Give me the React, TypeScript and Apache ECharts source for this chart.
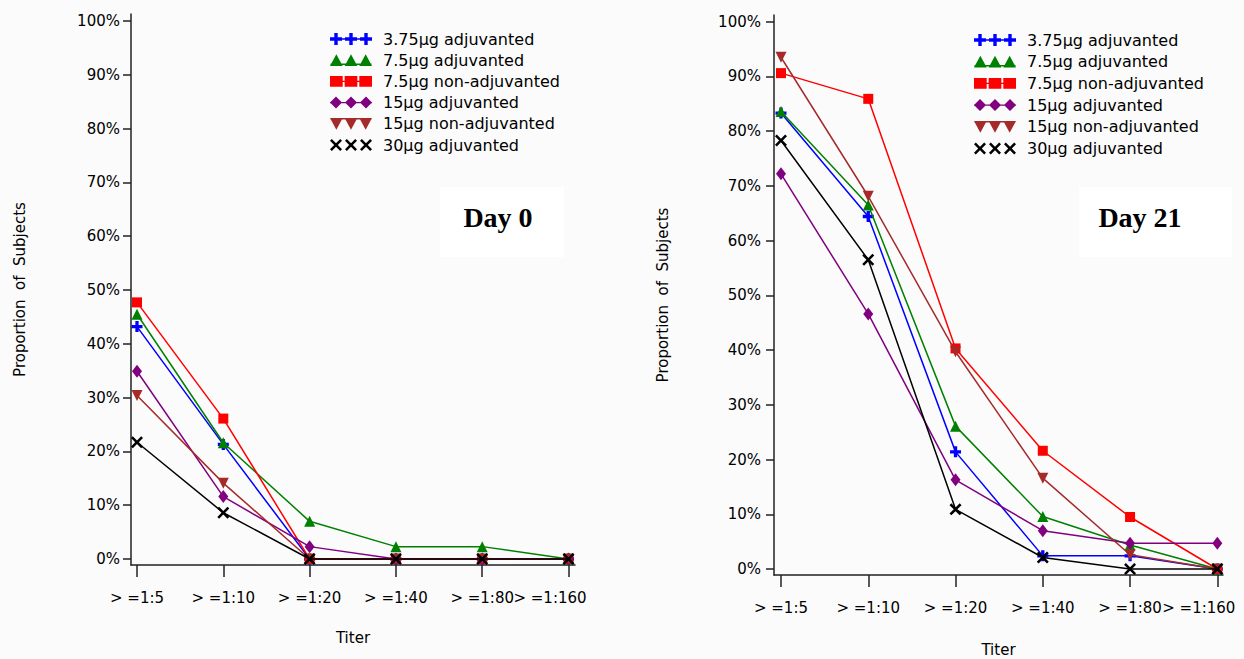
import React, { useEffect, useRef } from 'react';
import * as echarts from 'echarts';

// ---------- data ----------
const TITER_LABELS = ['> =1:5', '> =1:10', '> =1:20', '> =1:40', '> =1:80', '> =1:160'];
const TITER_POS = [0, 1, 2, 3, 4, 5];
const Y_TICKS = [0, 10, 20, 30, 40, 50, 60, 70, 80, 90, 100];
const GROUP_NAMES = [
  '3.75µg adjuvanted',
  '7.5µg adjuvanted',
  '7.5µg non-adjuvanted',
  '15µg adjuvanted',
  '15µg non-adjuvanted',
  '30µg adjuvanted',
];
const GROUP_COLORS = ['#0000ff', '#008000', '#ff0000', '#800080', '#a52a2a', '#000000'];
const PANEL_TITLES = ['Day 0', 'Day 21'];

// Day 0 (% of subjects)
const DAY0_375_ADJ = [43.2, 21.3, 0, 0, 0, 0];
const DAY0_75_ADJ = [45.5, 21.6, 7.0, 2.3, 2.3, 0];
const DAY0_75_NON = [47.7, 26.1, 0, 0, 0, 0];
const DAY0_15_ADJ = [34.9, 11.6, 2.3, 0, 0, 0];
const DAY0_15_NON = [30.4, 14.1, 0, 0, 0, 0];
const DAY0_30_ADJ = [21.7, 8.6, 0, 0, 0, 0];

// Day 21 (% of subjects)
const DAY21_375_ADJ = [83.3, 64.4, 21.4, 2.4, 2.4, 0];
const DAY21_75_ADJ = [83.6, 66.5, 26.1, 9.6, 4.4, 0];
const DAY21_75_NON = [90.6, 85.9, 40.3, 21.6, 9.5, 0];
const DAY21_15_ADJ = [72.2, 46.6, 16.3, 7.0, 4.7, 4.7];
const DAY21_15_NON = [93.5, 68.1, 39.7, 16.6, 2.6, 0];
const DAY21_30_ADJ = [78.3, 56.5, 10.9, 2.1, 0, 0];

const DAY0 = [DAY0_375_ADJ, DAY0_75_ADJ, DAY0_75_NON, DAY0_15_ADJ, DAY0_15_NON, DAY0_30_ADJ];
const DAY21 = [DAY21_375_ADJ, DAY21_75_ADJ, DAY21_75_NON, DAY21_15_ADJ, DAY21_15_NON, DAY21_30_ADJ];

// ---------- styling ----------
const SANS = "'DejaVu Sans', sans-serif";
const PLUS = 'path://M3.5,0H6.5V3.5H10V6.5H6.5V10H3.5V6.5H0V3.5H3.5Z';
const XMARK = 'path://M0,1.5L1.5,0L5,3.5L8.5,0L10,1.5L6.5,5L10,8.5L8.5,10L5,6.5L1.5,10L0,8.5L3.5,5Z';
const SYMBOLS: any[] = [
  { symbol: PLUS, size: 11, rotate: 0 },
  { symbol: 'triangle', size: 11, rotate: 0 },
  { symbol: 'rect', size: 10, rotate: 0 },
  { symbol: 'diamond', size: [10, 13], rotate: 0 },
  { symbol: 'triangle', size: 11, rotate: 180 },
  { symbol: XMARK, size: 12, rotate: 0 },
];

const CENTERS = [6, 21, 36];
const rect = (x0: number, y0: number, x1: number, y1: number) => `M${x0},${y0}H${x1}V${y1}H${x0}Z`;
function legendIcon(kind: number): string {
  let d = '';
  if (kind === 0) {
    d += rect(0, 5.2, 42, 6.8);
    CENTERS.forEach((c) => { d += rect(c - 6, 4.3, c + 6, 7.7) + rect(c - 1.7, 0, c + 1.7, 12); });
  } else if (kind === 1) {
    d += rect(0, 9.5, 42, 11);
    CENTERS.forEach((c) => { d += `M${c - 6.5},12L${c},0L${c + 6.5},12Z`; });
  } else if (kind === 2) {
    CENTERS.forEach((c) => { d += rect(c - 6.5, 0.5, c + 6.5, 11.5); });
    d += rect(0, 5.3, 42, 6.7);
  } else if (kind === 3) {
    d += rect(0, 5.3, 42, 6.7);
    CENTERS.forEach((c) => { d += `M${c},0L${c + 6},6L${c},12L${c - 6},6Z`; });
  } else if (kind === 4) {
    d += rect(0, 0, 42, 1.5);
    CENTERS.forEach((c) => { d += `M${c - 6.5},0L${c + 6.5},0L${c},12Z`; });
  } else {
    CENTERS.forEach((c) => {
      const s = 1.2;
      const o = c - 6;
      const pts = [[0, 1.5], [1.5, 0], [5, 3.5], [8.5, 0], [10, 1.5], [6.5, 5], [10, 8.5], [8.5, 10], [5, 6.5], [1.5, 10], [0, 8.5], [3.5, 5]];
      d += 'M' + pts.map((p) => `${o + p[0] * s},${p[1] * s}`).join('L') + 'Z';
    });
  }
  return 'path://' + d;
}

const PANELS = [
  { grid: { left: 131, top: 14, width: 444, height: 551 }, xmin: -0.0695, xmax: 5.075, ymin: -1.115, ymax: 101.3,
    legend: { left: 325, top: 26, gap: 5.2 }, title: { x: 498, y: 217 }, box: [440, 187, 124, 70], labelMargin: 11, nameGapX: 65, data: DAY0 },
  { grid: { left: 774, top: 15, width: 449, height: 560 }, xmin: -0.08, xmax: 5.065, ymin: -1.097, ymax: 101.22,
    legend: { left: 969, top: 27, gap: 5.7 }, title: { x: 1140, y: 217 }, box: [1079, 187, 153, 70], labelMargin: 13, nameGapX: 67, data: DAY21 },
];

function buildOption() {
  const axisLineStyle = { color: '#222', width: 1.5 };
  const labelFont = { fontFamily: SANS, fontSize: 15, color: '#000' };
  const grids: any[] = [];
  const xAxes: any[] = [];
  const extraXAxes: any[] = [];
  const yAxes: any[] = [];
  const series: any[] = [];
  const legends: any[] = [];
  const graphics: any[] = [];
  const lastIdx = TITER_POS.length - 1;

  PANELS.forEach((p, g) => {
    grids.push({ ...p.grid, containLabel: false, outerBoundsMode: 'none' });
    xAxes.push({
      type: 'value', gridIndex: g, min: p.xmin, max: p.xmax,
      name: 'Titer', nameLocation: 'middle', nameGap: p.nameGapX,
      nameTextStyle: { ...labelFont },
      axisLine: { show: true, onZero: false, lineStyle: axisLineStyle },
      axisTick: { show: true, length: 12, customValues: TITER_POS, lineStyle: axisLineStyle },
      splitLine: { show: false },
      axisLabel: {
        customValues: TITER_POS.slice(0, lastIdx), margin: 25, ...labelFont,
        formatter: (v: number) => TITER_LABELS[Math.round(v)],
      },
    });
    // separate axis for the last (shifted) titer label, sharing the same scale
    extraXAxes.push({
      type: 'value', gridIndex: g, min: p.xmin, max: p.xmax, position: 'bottom',
      axisLine: { show: false, onZero: false },
      axisTick: { show: false },
      splitLine: { show: false },
      axisLabel: {
        customValues: TITER_POS.slice(lastIdx), margin: 25, ...labelFont,
        formatter: (v: number) => `{last|${TITER_LABELS[Math.round(v)]}}`,
        rich: { last: { ...labelFont, padding: [0, 37, 0, 0] } },
      },
    });
    yAxes.push({
      type: 'value', gridIndex: g, min: p.ymin, max: p.ymax,
      name: 'Proportion  of  Subjects', nameLocation: 'middle', nameGap: 104,
      nameTextStyle: { ...labelFont },
      axisLine: { show: true, onZero: false, lineStyle: axisLineStyle },
      axisTick: { show: true, length: 8, customValues: Y_TICKS, lineStyle: axisLineStyle },
      splitLine: { show: false },
      axisLabel: {
        customValues: Y_TICKS, margin: p.labelMargin, ...labelFont,
        formatter: (v: number) => `${Math.round(v)}%`,
      },
    });
    GROUP_NAMES.forEach((name, i) => {
      const sym = SYMBOLS[i];
      series.push({
        type: 'line', name, xAxisIndex: g, yAxisIndex: g,
        data: TITER_POS.map((x, j) => [x, p.data[i][j]]),
        symbol: sym.symbol, symbolSize: sym.size, symbolRotate: sym.rotate, showSymbol: true,
        lineStyle: { color: GROUP_COLORS[i], width: 1.5 },
        itemStyle: { color: GROUP_COLORS[i], borderWidth: 0 },
        z: 2 + i * 0.1,
      });
    });
    legends.push({
      orient: 'vertical', left: p.legend.left, top: p.legend.top,
      itemWidth: 42, itemHeight: 12, itemGap: p.legend.gap, selectedMode: false,
      textStyle: { fontFamily: SANS, fontSize: 16, color: '#000', lineHeight: 16, padding: [0, 0, 0, 6] },
      data: GROUP_NAMES.map((name, i) => ({ name, icon: legendIcon(i), itemStyle: { color: GROUP_COLORS[i] } })),
    });
    graphics.push({
      type: 'rect', shape: { x: p.box[0], y: p.box[1], width: p.box[2], height: p.box[3] },
      style: { fill: '#ffffff' }, z: 0,
    });
    graphics.push({
      type: 'text', x: p.title.x, y: p.title.y, z: 1,
      style: {
        text: PANEL_TITLES[g], fontFamily: "'Liberation Serif', 'Times New Roman', serif", fontWeight: 'bold',
        fontSize: 28, fill: '#000', align: 'center', verticalAlign: 'middle',
      },
    });
  });

  return {
    animation: false,
    backgroundColor: '#fbfbfb',
    grid: grids,
    xAxis: [...xAxes, ...extraXAxes],
    yAxis: yAxes,
    legend: legends,
    graphic: graphics,
    series,
  };
}

export default function App() {
  const ref = useRef<HTMLDivElement>(null);
  useEffect(() => {
    if (!ref.current) return;
    const chart = echarts.init(ref.current, null, { renderer: 'svg' });
    chart.setOption(buildOption() as any);
    return () => chart.dispose();
  }, []);
  return <div ref={ref} style={{ position: 'absolute', left: 0, top: 0, width: 1244, height: 659 }} />;
}
